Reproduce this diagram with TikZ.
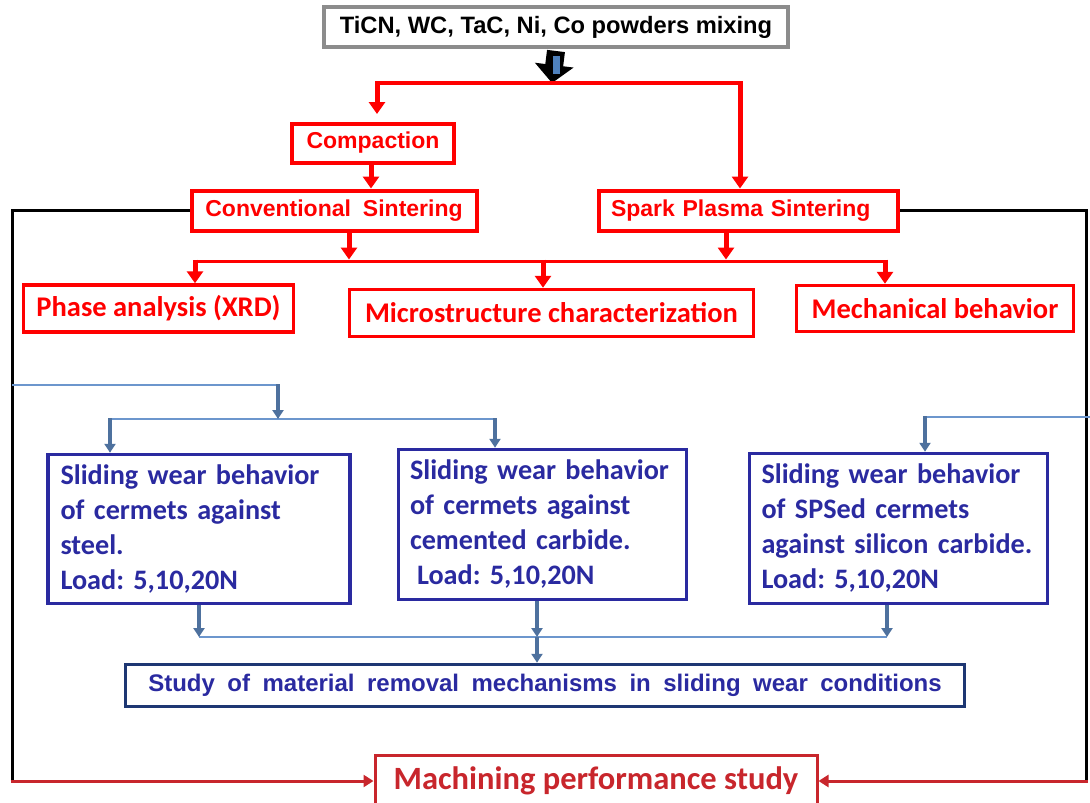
\documentclass[tikz,border=0pt]{standalone}
\usepackage{fontspec}
\newfontfamily\arialf{Liberation Sans}
\newfontfamily\calib{Carlito}
\usetikzlibrary{arrows,arrows.meta}
\definecolor{mixgray}{RGB}{140,140,140}
\definecolor{blockblue}{RGB}{79,129,189}
\definecolor{wearblue}{RGB}{42,42,160}
\definecolor{studynavy}{RGB}{30,55,115}
\definecolor{linkblue}{RGB}{108,150,205}
\definecolor{stemblue}{RGB}{78,113,158}
\definecolor{machred}{RGB}{200,38,44}
\newcommand\widesp{\setlength\spaceskip{0.52em}}
\frenchspacing
\begin{document}
\begin{tikzpicture}[x=1pt,y=-1pt,
  every node/.style={inner sep=0pt},
  mixbox/.style={draw = mixgray, line width=4pt, font=\arialf\bfseries\fontsize{23.7}{28}\selectfont},
  redbox/.style={draw = red, line width=4pt, text=red, font=\arialf\bfseries\fontsize{23}{28}\selectfont\widesp},
  resbox/.style={draw = red, line width=3.5pt, text=red, font=\calib\bfseries\fontsize{28.5}{34}\selectfont},
  wearbox/.style={draw = wearblue, line width=3.5pt, text=wearblue, align=left, font=\calib\bfseries\fontsize{28.2}{35}\selectfont},
  studybox/.style={draw = studynavy, line width=3.5pt, text=wearblue, font=\arialf\bfseries\fontsize{24}{28}\selectfont\widesp},
  machbox/.style={draw = machred, line width=3pt, text=machred, font=\calib\bfseries\fontsize{32.5}{36}\selectfont},
  redarrow/.style={draw = red, line width=5pt, -{Triangle[width=16pt,length=12pt]}},
  redline/.style={draw = red, line width=4pt},
  redthin/.style={draw = red, line width=3pt},
  blackline/.style={draw = black, line width=3pt},
  macharrow/.style={draw = machred, line width=3pt, -{Triangle[width=12pt,length=10pt]}},
  blueline/.style={draw = linkblue, line width=2.2pt},
  bluearrow/.style={draw = stemblue, line width=3.5pt, -{Triangle[width=11pt,length=9pt]}}]
\useasboundingbox (0,0) rectangle (1090,803);

\node[mixbox, minimum width=464pt, minimum height=40pt] (mix) at (556,27) {TiCN, WC, TaC, Ni, Co powders mixing};
\node[redbox, minimum width=162pt, minimum height=39pt] (comp) at (373,143) {Compaction};
\node[redbox, minimum width=285pt, minimum height=40pt] (conv) at (334,210.5) {Conventional Sintering};
\node[redbox, minimum width=299pt, minimum height=40pt, text width=275pt, align=left] (spark) at (748.5,210.5) {Spark Plasma Sintering};
\node[resbox, minimum width=270pt, minimum height=47pt] (phase) at (158.5,308.5) {Phase analysis (XRD)};
\node[resbox, minimum width=404pt, minimum height=47pt] (micro) at (551.5,313) {Microstructure characterization};
\node[resbox, minimum width=277pt, minimum height=46pt] (mech) at (935,308.5) {Mechanical behavior};
\node[wearbox, minimum width=302pt, minimum height=149pt, text width=277pt] (box1) at (199,529)
  {Sliding wear behavior\\of cermets against\\steel.\\Load: 5,10,20N};
\node[wearbox, minimum width=288pt, minimum height=150pt, text width=265pt] (box2) at (542.5,524.5)
  {Sliding wear behavior\\of cermets against\\cemented carbide.\\\hspace*{7pt}Load: 5,10,20N};
\node[wearbox, minimum width=298pt, minimum height=150pt, text width=274pt] (box3) at (898.5,528.5)
  {Sliding wear behavior\\of SPSed cermets\\against silicon carbide.\\Load: 5,10,20N};
\node[studybox, minimum width=839pt, minimum height=42pt] (study) at (545,685.5) {Study of material removal mechanisms in sliding wear conditions};
\node[machbox, minimum width=442pt, minimum height=52pt] (machin) at (596,781) {Machining performance study};

\coordinate (split) at (552,83);
\draw[draw = black, line width=18pt, -{Triangle[width=38pt,length=18pt]}] ([yshift=-2pt]mix.south) -- (split);
\draw[draw = blockblue, line width=7pt] ([yshift=-7pt]mix.south) -- ++(0,18);
\draw[redline] (split) -- (377,83);
\draw[redline] (split) -- (740,83);
\draw[redarrow] (377,81) -- (377,114);
\draw[redarrow] (740,81) -- ([xshift=-8.5pt]spark.north);
\draw[redarrow] ([xshift=-2pt]comp.south) -- ([xshift=-2pt]comp.south |- conv.north);

\coordinate (redL) at (195,261);
\coordinate (redM) at (543,261);
\coordinate (redR) at (885,261);
\draw[redthin] (redL) -- (redR);
\draw[redarrow] ([xshift=15pt]conv.south) -- ++(0,27);
\draw[redarrow] ([xshift=-22.5pt]spark.south) -- ++(0,27);
\foreach \c/\n in {redL/phase,redM/micro,redR/mech}{
\draw[redarrow] ([yshift=1.5pt]\c) -- (\c |- \n.north);};

\coordinate (cornL) at (12,781);
\coordinate (cornR) at (1086,781);
\draw[blackline] (conv.west) -| (cornL);
\draw[blackline] (spark.east) -| (cornR);
\draw[macharrow] ([xshift=-1.5pt]cornL) -- (machin.west);
\draw[macharrow] ([xshift=1.5pt]cornR) -- (machin.east);

\coordinate (bTopL) at (12,385);
\coordinate (bTop) at (278,385);
\coordinate (bMid) at (278,419);
\coordinate (bA) at (110,419);
\coordinate (bB) at (495,419);
\coordinate (bRR) at (1090,417);
\coordinate (bK) at (925,417);
\draw[blueline] (bTopL) -- (bTop);
\draw[blueline] (bA) -- (bB);
\draw[blueline] (bRR) -- (bK);
\draw[bluearrow] ([yshift=1pt]bTop) -- (bMid);
\draw[bluearrow] ([yshift=1pt]bA) -- (bA |- box1.north);
\draw[bluearrow] ([yshift=1pt]bB) -- (bB |- box2.north);
\draw[bluearrow] ([yshift=1pt]bK) -- (bK |- box3.north);

\coordinate (bb1) at (199,637);
\coordinate (bb2) at (537,637);
\coordinate (bb3) at (887,637);
\draw[blueline] (bb1) -- (bb3);
\foreach \n/\c in {box1/bb1,box2/bb2,box3/bb3}{
\draw[bluearrow] (\c |- \n.south) -- (\c);};
\draw[bluearrow] (bb2) -- (bb2 |- study.north);
\end{tikzpicture}
\end{document}
